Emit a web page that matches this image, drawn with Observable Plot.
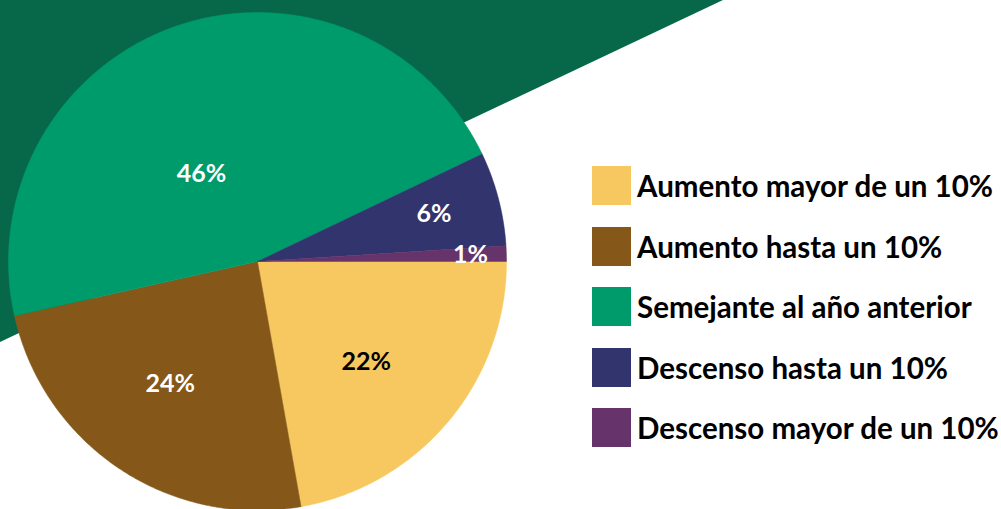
<!DOCTYPE html>
<html>
<head>
<meta charset="utf-8">
<script src="https://cdn.jsdelivr.net/npm/d3@7"></script>
<script src="https://cdn.jsdelivr.net/npm/@observablehq/plot@0.6"></script>
<style>
  html, body { margin: 0; padding: 0; background: #fff; }
  #wrap { position: relative; width: 1001px; height: 509px; overflow: hidden; font-family: Lato, "Open Sans", sans-serif; }
  #bg { position: absolute; left: 0; top: 0; width: 1001px; height: 509px; background: #066849;
        clip-path: polygon(0 0, 723px 0, 0 342px); }
  #chart { position: absolute; left: 0; top: 0; }
  #legend { position: absolute; left: 592px; top: 166px; }
  .item { display: flex; align-items: center; height: 39px; margin-bottom: 21.5px; }
  .sw { width: 39px; height: 39px; margin-right: 6px; flex: none; }
  .lbl { font-weight: 700; font-size: 29.5px; color: #000; white-space: nowrap; line-height: 39px; }
</style>
</head>
<body>
<div id="wrap">
  <div id="bg"></div>
  <div id="chart"></div>
  <div id="legend"></div>
</div>
<script>
// ---- data ----
const categories = ["Aumento mayor de un 10%", "Aumento hasta un 10%", "Semejante al año anterior", "Descenso hasta un 10%", "Descenso mayor de un 10%"];
const values = [22.2, 24.3, 46.4, 6.1, 1.0];
const labels = ["22%", "24%", "46%", "6%", "1%"];
const colors = ["#F6C85F", "#85581A", "#009B6B", "#31346D", "#66336B"];
const labelColors = ["#000000", "#ffffff", "#ffffff", "#ffffff", "#ffffff"];

// ---- layout ----
const cx = 257, cy = 261, R = 249;
const labelRadius = [148, 150, 104, 183, 213];
const labelAngleShift = [2.7, 1.9, -13.5, -0.6, 0];

const total = d3.sum(values);
let acc = 0;
const slices = values.map((v, i) => {
  const a0 = acc / total * 360;
  acc += v;
  const a1 = acc / total * 360;
  return {cat: categories[i], a0, a1, i};
});

const rad = (deg) => deg * Math.PI / 180;
const pts = [];
for (const s of slices) {
  pts.push({cat: s.cat, x: cx, y: cy});
  const n = Math.max(4, Math.ceil((s.a1 - s.a0) / 0.5));
  for (let k = 0; k <= n; k++) {
    const a = s.a0 + (s.a1 - s.a0) * k / n;
    pts.push({cat: s.cat, x: cx + R * Math.cos(rad(a)), y: cy + R * Math.sin(rad(a))});
  }
  pts.push({cat: s.cat, x: cx, y: cy});
}

const labelData = slices.map((s, i) => {
  const a = (s.a0 + s.a1) / 2 + labelAngleShift[i];
  return {
    text: labels[i],
    color: labelColors[i],
    x: cx + labelRadius[i] * Math.cos(rad(a)),
    y: cy + labelRadius[i] * Math.sin(rad(a))
  };
});

const chart = Plot.plot({
  width: 1001,
  height: 509,
  margin: 0,
  style: {background: "transparent", overflow: "visible"},
  x: {type: "identity", axis: null},
  y: {type: "identity", axis: null},
  color: {domain: categories, range: colors},
  marks: [
    Plot.line(pts, {x: "x", y: "y", z: "cat", fill: "cat", stroke: "cat", strokeWidth: 0.5, curve: "linear"}),
    Plot.text(labelData, {x: "x", y: "y", text: "text", fill: "color", fontSize: 25, fontWeight: 700, fontFamily: "Lato, 'Open Sans', sans-serif"})
  ]
});
document.getElementById("chart").appendChild(chart);

const legend = document.getElementById("legend");
categories.forEach((c, i) => {
  const item = document.createElement("div");
  item.className = "item";
  const sw = document.createElement("div");
  sw.className = "sw";
  sw.style.background = colors[i];
  const lb = document.createElement("div");
  lb.className = "lbl";
  lb.textContent = c;
  item.appendChild(sw);
  item.appendChild(lb);
  legend.appendChild(item);
});
</script>
</body>
</html>
